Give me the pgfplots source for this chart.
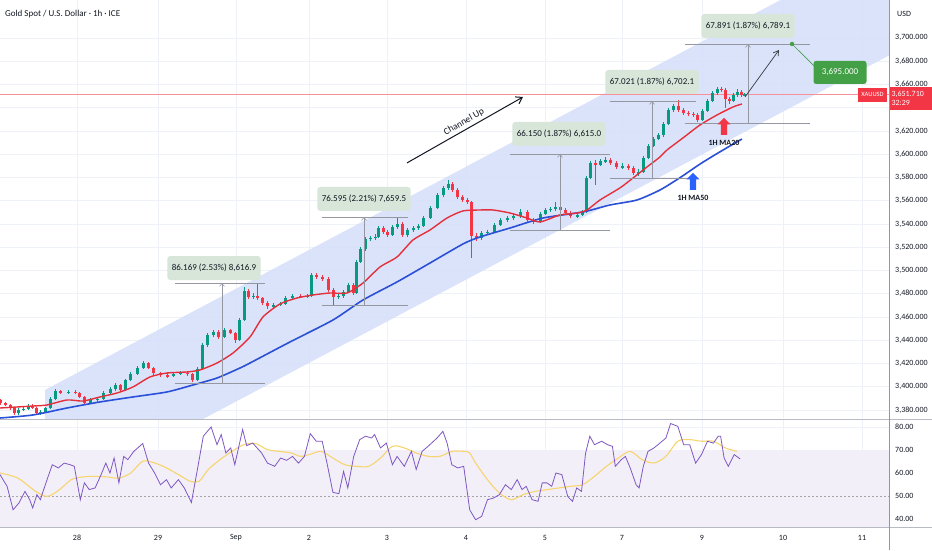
\documentclass[border=0pt]{standalone}
\usepackage{pgfplots}
\usepackage{pgfplotstable}
\pgfplotsset{compat=1.18}
\usepackage{fontspec}
\setmainfont{Carlito}
\usetikzlibrary{shapes.arrows, arrows.meta}

\definecolor{upc}{HTML}{089981}
\definecolor{dnc}{HTML}{F23645}
\definecolor{ma20}{HTML}{E5303C}
\definecolor{ma50}{HTML}{2B50D8}
\definecolor{chan}{HTML}{D2DDFA}
\definecolor{gridc}{HTML}{EEF1F7}
\definecolor{boxc}{HTML}{D8E6DA}
\definecolor{txt}{HTML}{131722}
\definecolor{meas}{HTML}{9598A1}
\definecolor{lbl}{HTML}{43A047}
\definecolor{rsi}{HTML}{7E57C2}
\definecolor{rsima}{HTML}{F7D56E}
\definecolor{rsiband}{HTML}{F2EFF9}
\definecolor{sepc}{HTML}{B8BBC4}
\definecolor{bluearr}{HTML}{2962FF}

\pgfplotstableread{
x o h l c
18 3377.4 3381.5 3376 3380.0
23 3380.0 3383 3379 3380.9
28 3380.9 3385 3380 3383.4
40 3377.4 3380 3376 3378.3
45 3378.3 3383 3377 3381.7
50 3381.7 3391 3381 3389.5
55 3389.5 3398 3388.5 3396.3
68 3394.6 3397 3393.5 3395.5
90 3386.0 3390 3385 3388.6
97 3388.6 3391 3387 3389.5
103 3389.5 3396 3388.5 3394.6
110 3394.6 3399.5 3393.5 3398.1
115 3398.1 3403 3396.5 3401.5
125 3397.2 3407 3396 3405.8
130 3405.8 3412.5 3405 3411.0
137 3411.0 3417.5 3410 3416.1
143 3416.1 3422.5 3415 3420.4
173 3409.2 3412.5 3408 3411.0
180 3411.0 3413.5 3410 3411.8
197 3405.8 3417 3405 3415.3
202 3415.3 3437.5 3414.5 3435.9
207 3435.9 3446.5 3434.5 3444.5
213 3444.5 3449 3443 3447.1
224 3442.8 3450.5 3441.5 3448.8
239 3440.2 3459 3439.5 3457.4
244 3457.4 3486 3456.5 3482.3
253 3477.2 3480.5 3475.5 3478.0
273 3469.4 3472 3468 3470.3
280 3470.3 3473 3469 3471.2
285 3471.2 3478 3470 3476.3
292 3476.3 3480 3475 3478.0
307 3477.2 3480 3476 3478.0
311 3478.0 3498 3477 3496.1
338 3477.2 3480 3475.5 3478.0
343 3478.0 3483 3476.5 3481.5
348 3481.5 3489.5 3480.5 3487.5
356 3480.6 3509 3479.5 3507.3
360 3507.3 3520.5 3506 3518.5
365 3518.5 3529 3517 3527.1
370 3527.1 3530 3525.5 3527.9
375 3527.9 3531 3526 3528.8
378 3528.8 3538.5 3527.5 3536.5
392 3530.5 3539 3529.5 3537.4
397 3537.4 3546 3536 3540.0
407 3530.5 3536.5 3529 3534.8
413 3534.8 3538.5 3533 3536.5
418 3536.5 3540 3535 3538.2
423 3538.2 3547 3537 3545.1
430 3545.1 3555.5 3544 3553.7
437 3553.7 3566.5 3552.5 3564.9
443 3564.9 3573 3563.5 3570.9
448 3570.9 3577.5 3569.5 3574.4
481 3527.9 3534 3526 3532.2
487 3532.2 3535 3530.5 3533.1
494 3533.1 3541 3532 3539.1
500 3539.1 3545 3538 3543.4
507 3543.4 3547 3541.5 3545.1
513 3545.1 3549 3543.5 3546.8
520 3546.8 3553 3545.5 3550.3
540 3541.7 3550.5 3540.5 3548.6
545 3548.6 3554 3547.5 3552.0
550 3552.0 3555 3550.5 3552.9
555 3552.9 3559 3551.5 3554.6
577 3546.8 3549.5 3545.5 3547.7
582 3547.7 3552 3546.5 3550.3
586 3550.3 3581.5 3549.5 3579.5
590 3579.5 3594.5 3578.5 3592.4
600 3590.7 3596 3589.5 3594.1
605 3594.1 3597.5 3592.5 3595.0
622 3589.0 3592 3587.5 3589.8
638 3583.8 3587 3581.5 3584.7
643 3584.7 3598.5 3583.5 3596.7
648 3596.7 3609 3595.5 3607.0
653 3607.0 3615 3606 3613.1
658 3613.1 3618.5 3612 3616.5
663 3616.5 3628 3615 3626.0
668 3626.0 3640 3625 3638.0
673 3638.0 3643.5 3636.5 3641.4
702 3629.4 3639 3628.5 3637.1
707 3637.1 3647.5 3636 3645.7
712 3645.7 3654.5 3644.5 3652.6
717 3652.6 3658 3651 3656.1
733 3645.7 3652.5 3644.5 3650.9
737 3650.9 3656 3649.5 3653.5
744 3650.9 3653 3650 3651.7
}\upt

\pgfplotstableread{
x o h l c
0 3388.0 3389.5 3384.5 3386.0
5 3386.0 3387 3383 3384.3
10 3384.3 3385.5 3380 3381.7
14 3381.7 3382.5 3375.5 3377.4
32 3383.4 3385 3380.5 3381.7
36 3381.7 3382.5 3376 3377.4
60 3396.3 3397.5 3393.5 3394.6
75 3395.5 3397.5 3393.5 3394.6
79 3394.6 3395.5 3390 3391.2
84 3391.2 3392 3384.5 3386.0
120 3401.5 3402.5 3395.5 3397.2
148 3420.4 3421.5 3415 3416.1
153 3416.1 3417 3410.5 3411.8
160 3411.8 3413 3408.5 3410.1
167 3410.1 3411.5 3407.5 3409.2
187 3411.8 3413 3409.5 3411.0
192 3411.0 3412 3404 3405.8
218 3447.1 3448.5 3441 3442.8
230 3448.8 3450 3445 3446.2
235 3446.2 3447 3437.5 3440.2
248 3482.3 3484 3475.5 3477.2
257 3478.0 3489 3475 3476.3
262 3476.3 3477.5 3470.5 3472.0
267 3472.0 3473.5 3467 3469.4
300 3478.0 3479.5 3476 3477.2
316 3496.1 3497.5 3492.5 3494.4
322 3494.4 3496 3491 3492.7
328 3492.7 3494 3481.5 3483.2
333 3483.2 3484.5 3470 3477.2
353 3487.5 3489 3479 3480.6
383 3536.5 3538 3531.5 3533.1
387 3533.1 3534.5 3528.5 3530.5
402 3540.0 3541.5 3529 3530.5
452 3574.4 3576 3567.5 3569.2
457 3569.2 3570.5 3561.5 3563.2
462 3563.2 3565 3559 3560.6
467 3560.6 3562 3557 3558.9
471 3558.9 3560 3510.5 3529.6
476 3529.6 3532 3525 3527.9
527 3550.3 3552 3541.5 3543.4
533 3543.4 3545 3540 3541.7
560 3554.6 3556.5 3550.5 3552.0
565 3552.0 3553.5 3547.5 3549.4
570 3549.4 3551 3545 3546.8
595 3592.4 3595 3573.5 3590.7
610 3595.0 3596.5 3591 3592.4
616 3592.4 3594 3587.5 3589.0
628 3589.8 3591.5 3586.5 3588.1
633 3588.1 3589.5 3582 3583.8
678 3641.4 3646.6 3636.5 3638.0
683 3638.0 3639.5 3634 3635.4
688 3635.4 3637 3633 3634.6
693 3634.6 3636 3632 3633.7
697 3633.7 3635 3627.5 3629.4
721 3656.1 3657.5 3653.5 3655.2
725 3655.2 3656.5 3640 3647.5
729 3647.5 3649 3643.5 3645.7
741 3653.5 3655 3649.5 3650.9
}\dnt

\begin{document}
\begin{tikzpicture}[
  box/.style={fill=boxc, rounded corners=3pt, text=txt, font=\fontsize{9}{10}\selectfont, minimum height=24pt, inner xsep=4.5pt},
  mline/.style={meas, line width=0.6pt},
]
\useasboundingbox (0,0) rectangle (932pt,550pt);
\fill[white] (0,0) rectangle (932pt,550pt);

\begin{axis}[
  at={(0pt,132pt)}, anchor=south west, scale only axis,
  width=889pt, height=418pt,
  xmin=0, xmax=889, ymin=3373.1, ymax=3732.6,
  clip mode=individual,
  axis line style={draw=none}, major tick length=0pt,
  xtick={77,158,236,309,387,466,545,622,702,783,862}, xticklabels={},
  ytick={3380,3400,3420,3440,3460,3480,3500,3520,3540,3560,3580,3600,3620,3640,3660,3680,3700},
  yticklabel pos=right,
  yticklabel style={anchor=west, inner sep=0pt, xshift=6pt, font=\fontsize{8}{9}\selectfont, text=txt},
  y tick label style={/pgf/number format/fixed, /pgf/number format/fixed zerofill, /pgf/number format/precision=3, /pgf/number format/1000 sep={,}, /pgf/number format/assume math mode=true},
  grid=major, grid style={gridc, line width=0.7pt},
  candle/.style={draw=none, no markers, forget plot, error bars/.cd, y dir=both, y explicit, error mark=none},
]
% channel
\addplot[fill=chan, draw=none, fill opacity=0.8] coordinates {(45,3300.2) (45,3397.2) (889,3782.1) (889,3684.9)} -- cycle;
% current price line
\addplot[dnc!55, line width=0.5pt] coordinates {(0,3651.71) (889,3651.71)};

% candles: wicks and bodies
\addplot[candle, error bar style={draw=upc, line width=0.8pt}]
  table[x=x, y expr={(\thisrow{h}+\thisrow{l})/2}, y error expr={(\thisrow{h}-\thisrow{l})/2}] {\upt};
\addplot[candle, error bar style={draw=upc, line width=3pt}]
  table[x=x, y expr={(\thisrow{o}+\thisrow{c})/2}, y error expr={abs(\thisrow{c}-\thisrow{o})/2+0.3}] {\upt};
\addplot[candle, error bar style={draw=dnc, line width=0.8pt}]
  table[x=x, y expr={(\thisrow{h}+\thisrow{l})/2}, y error expr={(\thisrow{h}-\thisrow{l})/2}] {\dnt};
\addplot[candle, error bar style={draw=dnc, line width=3pt}]
  table[x=x, y expr={(\thisrow{o}+\thisrow{c})/2}, y error expr={abs(\thisrow{c}-\thisrow{o})/2+0.3}] {\dnt};

% MA50
\addplot[ma50, line width=1.6pt, smooth, tension=0.4] coordinates {
(0,3373.1) (33,3375.7) (67,3381.7) (100,3386.9) (133,3391.2) (167,3395.5) (193,3401.5) (217,3407.5) (240,3416.1) (250,3420.4) (290,3438.5) (333,3457.4) (363,3474.6) (397,3490.1) (430,3506.4) (463,3522.8) (480,3528.8) (510,3536.5) (543,3545.1) (583,3550.3) (610,3556.3) (637,3560.6) (660,3569.2) (680,3579.8) (700,3591.5) (717,3600.5) (742,3613.1)};
% MA20
\addplot[ma20, line width=1.4pt, smooth, tension=0.4] coordinates {
(0,3381.7) (33,3383.4) (47,3384.3) (67,3388.6) (83,3387.7) (100,3391.2) (117,3394.6) (133,3399.8) (150,3408.4) (167,3411.8) (187,3412.7) (200,3414.4) (217,3420.4) (233,3429.0) (250,3442.8) (263,3460.0) (280,3471.2) (297,3476.3) (313,3478.9) (330,3480.6) (347,3480.6) (363,3489.2) (380,3503.0) (397,3511.6) (413,3526.2) (430,3534.8) (447,3545.1) (463,3551.2) (480,3552.0) (493,3552.0) (510,3549.4) (527,3545.1) (540,3541.7) (560,3547.7) (577,3549.4) (587,3552.0) (600,3560.6) (620,3571.0) (633,3579.5) (647,3589.0) (660,3597.6) (667,3603.6) (683,3614.0) (700,3625.1) (717,3633.7) (733,3640.6) (742,3643.2)};

% measurement tools
\draw[mline] (axis cs:175,3489.2) -- (axis cs:265,3489.2);
\draw[mline] (axis cs:175,3403.2) -- (axis cs:265,3403.2);
\draw[mline, -{Straight Barb[length=3pt, width=5pt]}] (axis cs:222,3403.2) -- (axis cs:222,3489.2);
\node[box] at (axis cs:214,3502.1) {86.169 (2.53\%) 8,616.9};

\draw[mline] (axis cs:322,3546.0) -- (axis cs:408,3546.0);
\draw[mline] (axis cs:322,3470.3) -- (axis cs:408,3470.3);
\draw[mline, -{Straight Barb[length=3pt, width=5pt]}] (axis cs:364,3470.3) -- (axis cs:364,3546.0);
\node[box] at (axis cs:364,3561.5) {76.595 (2.21\%) 7,659.5};

\draw[mline] (axis cs:510,3600.2) -- (axis cs:610,3600.2);
\draw[mline] (axis cs:510,3534.8) -- (axis cs:610,3534.8);
\draw[mline, -{Straight Barb[length=3pt, width=5pt]}] (axis cs:560,3534.8) -- (axis cs:560,3600.2);
\node[box] at (axis cs:559,3617.4) {66.150 (1.87\%) 6,615.0};

\draw[mline] (axis cs:610,3645.8) -- (axis cs:696,3645.8);
\draw[mline] (axis cs:610,3579.6) -- (axis cs:696,3579.6);
\draw[mline, -{Straight Barb[length=3pt, width=5pt]}] (axis cs:652,3579.6) -- (axis cs:652,3645.8);
\node[box] at (axis cs:652,3662.1) {67.021 (1.87\%) 6,702.1};

\draw[mline] (axis cs:685,3694.8) -- (axis cs:810,3694.8);
\draw[mline] (axis cs:685,3626.9) -- (axis cs:810,3626.9);
\draw[mline, -{Straight Barb[length=3pt, width=5pt]}] (axis cs:748,3626.9) -- (axis cs:748,3694.8);
\node[box] at (axis cs:748,3710.3) {67.891 (1.87\%) 6,789.1};

% projection arrow and target
\draw[txt!85, line width=0.7pt, -{Straight Barb[length=5pt, width=6pt]}] (axis cs:745,3649.2) -- (axis cs:779,3689.6);
\draw[lbl, line width=0.6pt] (axis cs:792,3694.8) -- (axis cs:818,3672.5);
\fill[lbl] (axis cs:792,3694.8) circle (2.2pt);
\node[fill=lbl, rounded corners=2.5pt, text=white, font=\fontsize{9}{10}\selectfont, minimum width=53pt, minimum height=23pt, inner sep=2pt] at (axis cs:840,3670.3) {3,695.000};

% channel label
\draw[txt, line width=1pt, -{Straight Barb[length=6pt, width=8pt]}] (axis cs:407,3592.5) -- (axis cs:523,3649.2);
\node[rotate=29.6, text=txt, font=\fontsize{9.5}{10}\selectfont, inner sep=0pt] at (axis cs:464,3627.5) {Channel Up};

% MA labels
\node[single arrow, fill=dnc, rotate=90, minimum height=17pt, inner sep=3pt, single arrow head extend=3.5pt, single arrow head indent=0pt] at (axis cs:724,3622.6) {};
\node[text=txt, font=\bfseries\fontsize{8}{9}\selectfont] at (axis cs:724,3609.7) {1H MA20};
\node[single arrow, fill=bluearr, rotate=90, minimum height=17pt, inner sep=3pt, single arrow head extend=3.5pt, single arrow head indent=0pt] at (axis cs:693,3575.3) {};
\node[text=txt, font=\bfseries\fontsize{8}{9}\selectfont] at (axis cs:693,3562.4) {1H MA50};

% labels
\node[anchor=west, text=txt, font=\fontsize{9}{10}\selectfont, inner sep=0pt] at (axis cs:5,3720.6) {Gold Spot / U.S. Dollar · 1h · ICE};
\node[anchor=west, text=txt, font=\fontsize{8}{9}\selectfont, inner sep=0pt] at (axis cs:897,3720.6) {USD};
\node[fill=dnc, text=white, font=\fontsize{6.5}{7}\selectfont, minimum width=29pt, minimum height=14pt, inner sep=1pt] at (axis cs:872.5,3651.0) {XAUUSD};
\node[fill=dnc, text=white, font=\fontsize{8}{8.5}\selectfont, minimum width=43pt, minimum height=23pt, inner sep=1pt, align=left, text width=38pt] at (axis cs:910.5,3648.0) {3,651.710\\32:29};
\end{axis}

\begin{axis}[
  at={(0pt,23pt)}, anchor=south west, scale only axis,
  width=889pt, height=107pt,
  xmin=0, xmax=889, ymin=36.52, ymax=83.04,
  clip mode=individual,
  axis line style={draw=none}, major tick length=0pt,
  xtick={77,158,236,309,387,466,545,622,702,783,862},
  xticklabels={28,29,Sep,2,3,4,5,7,9,10,11},
  xticklabel style={anchor=center, yshift=-11pt, font=\fontsize{8}{9}\selectfont, text=txt},
  ytick={40,50,60,70,80},
  yticklabel pos=right,
  yticklabel style={anchor=west, inner sep=0pt, xshift=6pt, font=\fontsize{8}{9}\selectfont, text=txt},
  y tick label style={/pgf/number format/fixed, /pgf/number format/fixed zerofill, /pgf/number format/precision=2, /pgf/number format/assume math mode=true},
  grid=major, grid style={gridc, line width=0.7pt},
]
\addplot[fill=rsiband, draw=none] coordinates {(0,30) (889,30) (889,70) (0,70)} -- cycle;
\addplot[gray!70, line width=0.6pt, dash pattern=on 2pt off 2pt] coordinates {(0,50) (889,50)};
\addplot[rsima, line width=1.1pt, smooth, tension=0.5] coordinates {
(0,60) (17.8,57.8) (35.7,52) (47.6,49.85) (59.5,52.75) (71.3,57.1) (83.2,58.3) (95.1,58.55) (107,58.3) (118.9,57.8) (130.8,60) (142.7,65.1) (154.6,64.35) (166.5,62.2) (178.4,59.3) (190.2,56.4) (199.2,56.4) (208.1,61.45) (220,65.8) (231.9,69.4) (243.8,72.3) (255.6,72.8) (267.5,70.15) (279.4,69.4) (291.3,68.7) (300.2,67.25) (309.2,68) (321,69.4) (332.9,66.5) (344.8,63.6) (356.7,62.9) (368.6,62.9) (380.5,66.5) (392.4,71.6) (404.3,70.9) (416.2,68.7) (428.1,67.25) (440,67.25) (451.8,69.4) (463.7,69.4) (469.7,68.7) (475.6,64.35) (487.5,57.1) (499.4,51.3) (511.3,48.4) (523.2,50.6) (535.1,52) (547,52.75) (558.9,53.5) (570.7,54.2) (582.6,54.9) (594.5,58.55) (606.4,62.9) (618.3,66.5) (630.2,69.4) (642.1,65.8) (654,64.35) (665.9,67.25) (677.8,73.8) (689.7,74.5) (701.5,73.8) (713.4,73.8) (725.3,70.9) (737.2,69.4)};
\addplot[rsi, line width=0.8pt] coordinates {
(0,59.3) (7.1,54.2) (13.1,44) (19,47) (25,52) (29.7,48.4) (32.7,44.8) (36.9,50.6) (40.4,48.4) (42.8,51.6) (47.6,57.8) (52.3,63.6) (58.3,62.2) (64.2,64.3) (70.2,63.6) (74.3,62.9) (80.3,48.4) (84.4,55.7) (89.2,52.8) (95.1,53.5) (101.1,59.3) (105.8,64.3) (110,60) (114.1,66.5) (118.9,55.7) (123.7,67.2) (127.8,65.8) (133.8,69.4) (142.7,72.8) (148.6,64.3) (154.6,60) (160.5,54.9) (166.5,57.1) (171.2,53.5) (178.4,57.1) (184.3,53.5) (191.4,47.2) (197.4,61.5) (203.3,76) (211.1,80) (217,72.3) (221.2,76.7) (225.9,68.7) (230.7,70.9) (234.8,63.6) (242.6,78.9) (246.7,71.9) (252.7,73) (261.6,68.7) (267.5,64.3) (274.7,62.9) (280.6,66.5) (286.6,65.5) (292.5,67.2) (298.5,64.3) (304.4,67.2) (310.3,77.1) (316.3,73.8) (322.2,73.8) (327,64.3) (332.9,51.6) (338.9,51) (343.6,60.7) (347.8,53.5) (353.7,67.2) (359.7,74.5) (365.6,76) (371.6,75.2) (374.6,76.7) (380.5,70.9) (386.4,73) (392.4,63.6) (397.1,67.2) (404.3,62.9) (411.4,69.4) (416.2,61.5) (422.1,69.4) (428.1,71.6) (437,75.2) (442.9,78.1) (447.1,73) (451.8,63.6) (457.8,62.2) (463.7,62.9) (469.7,44) (475.6,39.7) (481.6,41.1) (487.5,48.4) (493.5,49.1) (499.4,50.6) (505.4,54.9) (511.3,52.8) (517.2,57.1) (522,52.8) (526.2,54.2) (532.1,48.4) (538.1,47.7) (542.2,55.7) (547,55.7) (551.7,54.2) (555.9,60) (561.8,59.3) (567.8,49.7) (572.5,47.7) (576.7,53.5) (581.5,52) (585.6,68.7) (589.8,76) (594.5,72.3) (601.7,73.8) (607.6,72.3) (612.4,71.6) (615.3,62.9) (621.3,65.8) (625.4,67.2) (630.2,62.2) (636.1,54.9) (639.1,53.5) (643.3,62.9) (648,69.4) (654,70.9) (659.9,73) (665.9,75.2) (670.6,81.5) (677.8,80.3) (683.7,72.3) (689.7,72.3) (695.6,64.3) (701.5,68) (707.5,73.8) (713.4,73) (718.2,76) (720.6,76) (724.1,66.5) (728.3,62.9) (734.2,68) (740.2,66.1)};
\end{axis}

\draw[sepc, line width=1pt] (0,130.5pt) -- (932pt,130.5pt);
\draw[sepc, line width=0.8pt] (0,23pt) -- (932pt,23pt);
\draw[sepc!80!black, line width=0.8pt] (889pt,0) -- (889pt,550pt);
\end{tikzpicture}
\end{document}
